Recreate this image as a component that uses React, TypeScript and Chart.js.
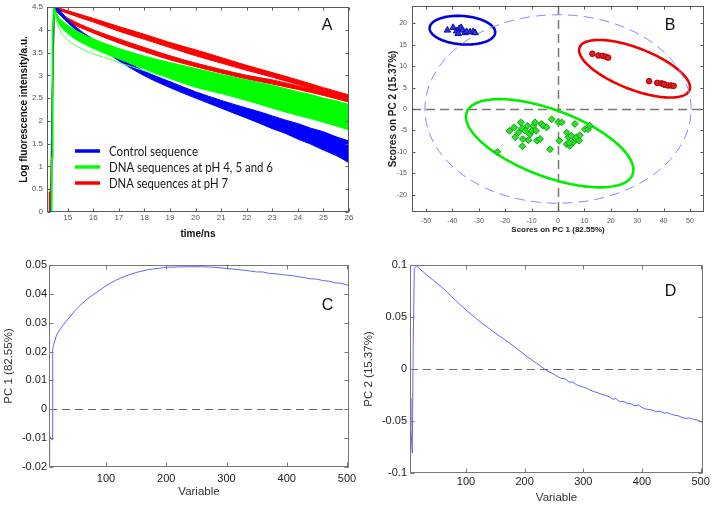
import React, { useEffect, useRef } from "react";
import { Chart, registerables } from "chart.js";
Chart.register(...registerables);

const FONT = 'Arial, "Liberation Sans", sans-serif';

// ---------- Panel A : fluorescence decays ----------
const ticksAx = [15, 16, 17, 18, 19, 20, 21, 22, 23, 24, 25, 26];
const ticksAy = [0, 0.5, 1, 1.5, 2, 2.5, 3, 3.5, 4, 4.5];

const riseTRed = [14.19, 14.28, 14.29, 14.31, 14.33, 14.36, 14.4, 14.47];
const riseYRed = [0, 0, 0.45, 0.1, 0.5, 1.15, 2.5, 4.5];
const riseTBlue = [14.19, 14.33, 14.36, 14.4, 14.46];
const riseYBlue = [0, 0, 0.3, 2.5, 4.5];
const riseTGreen = [14.19, 14.36, 14.37, 14.39, 14.4, 14.42, 14.47];
const riseYGreen = [0, 0, 1.15, 1.2, 2.5, 4.0, 4.5];

const tBlue = [14.45, 14.5, 15, 15.5, 16, 17, 18, 19, 20, 21, 22, 22.5, 23, 23.5, 24, 24.5, 25, 25.5, 26];
const blueUpper = [4.5, 4.5, 4.22, 3.98, 3.79, 3.41, 3.09, 2.86, 2.64, 2.45, 2.28, 2.2, 2.11, 2.02, 1.94, 1.84, 1.76, 1.65, 1.56];
const blueLower = [4.5, 4.46, 4.16, 3.91, 3.71, 3.32, 2.99, 2.73, 2.5, 2.28, 2.06, 1.95, 1.83, 1.73, 1.6, 1.49, 1.36, 1.24, 1.08];

const tGreen = [14.47, 14.6, 15, 15.5, 16, 16.5, 17, 18, 19, 20, 21, 22, 23, 24, 24.5, 25, 25.5, 26];
const greenUpper = [4.5, 4.32, 4.1, 3.93, 3.8, 3.69, 3.59, 3.42, 3.28, 3.15, 3.02, 2.9, 2.78, 2.64, 2.58, 2.5, 2.44, 2.36];
const greenLower = [4.45, 4.2, 3.92, 3.73, 3.59, 3.47, 3.36, 3.14, 2.93, 2.74, 2.6, 2.45, 2.28, 2.12, 2.05, 1.97, 1.89, 1.8];
const tGreenThin = [14.47, 14.6, 15, 15.5, 16, 16.5, 17, 18, 19];
const greenThin = [4.4, 4.1, 3.78, 3.6, 3.47, 3.38, 3.28, 3.1, 2.93];

const tRed = [14.5, 15, 16, 17, 18, 19, 20, 21, 22, 23, 24, 25, 26];
const redAUpper = [4.5, 4.42, 4.25, 4.07, 3.9, 3.72, 3.56, 3.39, 3.22, 3.06, 2.9, 2.73, 2.57];
const redALower = [4.47, 4.36, 4.17, 3.97, 3.79, 3.61, 3.43, 3.27, 3.11, 2.96, 2.8, 2.63, 2.46];
const redBUpper = [4.46, 4.26, 4.0, 3.8, 3.61, 3.43, 3.27, 3.13, 3.0, 2.9, 2.77, 2.64, 2.5];
const redBLower = [4.42, 4.19, 3.93, 3.71, 3.52, 3.34, 3.19, 3.05, 2.92, 2.81, 2.69, 2.56, 2.41];

const legendLabels = ["Control sequence", "DNA sequences at pH 4, 5 and 6", "DNA sequences at pH 7"];
const legendColors = ["#0000ff", "#00ff00", "#ff0000"];

// ---------- Panel B : PCA scores ----------
const ticksBx = [-50, -40, -30, -20, -10, 0, 10, 20, 30, 40, 50];
const ticksBy = [-20, -15, -10, -5, 0, 5, 10, 15, 20];
const controlPC1 = [-41.9, -39.7, -38.4, -37.4, -36.7, -36.2, -35.2, -34.6, -33.3, -32.1, -31.4, -37.8];
const controlPC2 = [18.4, 19.0, 18.2, 18.75, 19.0, 18.4, 17.8, 18.05, 18.0, 18.05, 17.8, 17.6];
const ph7PC1 = [13, 15.3, 16.9, 18.1, 19, 34.5, 37.6, 39.2, 40.3, 41.6, 42.8, 43.8, 40];
const ph7PC2 = [12.9, 12.5, 12.4, 12.2, 12.0, 6.5, 6.1, 6.0, 5.7, 5.5, 5.5, 5.4, 5.8];
const ph456PC1 = [-23, -18.4, -16.6, -16.2, -15.0, -14.1, -13.7, -13.3, -12.4, -11.6, -11.2, -10.6, -9.9, -9.3, -8.7, -8.3, -8.0, -6.8, -6.2, -5.6, -4.3, -3.0, -2.4, 0.1, 1.4, 0.5, 3.3, 3.3, 3.9, 4.5, 5.1, 5.7, 6.4, 7.0, 8.0, 8.3, 10.2, 11.4, 12.0, -13.5, 4.2];
const ph456PC2 = [-10, -5.1, -4.3, -6.6, -5.5, -3.1, -4.5, -7.0, -5.1, -3.9, -7.3, -5.9, -5.1, -3.9, -3.1, -5.1, -7.4, -7.0, -3.5, -3.9, -4.3, -9.4, -2.4, -3.1, -3.1, -7.4, -5.5, -8.2, -6.6, -8.6, -6.3, -7.8, -3.5, -6.6, -7.4, -6.1, -4.7, -4.7, -3.9, -8.7, -7.9];
// ellipses: centre, two conjugate semi-axes (data units)
const ellCentres = [[-36.2, 18.4], [29, 9.4], [-3.15, -8.0], [0, 0]];
const ellAxisU = [[12.4, -0.6], [20.8, -5.0], [31.4, -7.27], [50.4, 0]];
const ellAxisV = [[0.5, 3.3], [2.9, 4.5], [4.4, 7.3], [0, 22]];
const ellColors = ["#0000dd", "#ee0000", "#00ee00", "#8585ff"];

// ---------- Panel C : PC1 loadings ----------
const ticksCx = [100, 200, 300, 400, 500];
const ticksCy = [-0.02, -0.01, 0, 0.01, 0.02, 0.03, 0.04, 0.05];
const varC = [5.5, 6.5, 8, 10.4, 11.5, 13, 18, 24, 30, 40, 50, 60, 70, 80, 90, 100, 115, 130, 150, 170, 200, 230, 260, 280, 300, 320, 340, 350, 360, 370, 380, 390, 400, 410, 420, 430, 440, 450, 460, 470, 480, 490, 500, 503];
const pc1 = [-0.019, -0.0095, -0.0098, -0.0106, 0.021, 0.0222, 0.0258, 0.0278, 0.0295, 0.032, 0.0345, 0.0366, 0.0384, 0.0399, 0.0413, 0.0428, 0.0446, 0.046, 0.0474, 0.0484, 0.0492, 0.0494, 0.0494, 0.0492, 0.0488, 0.0484, 0.0479, 0.0476, 0.0476, 0.0471, 0.0470, 0.0467, 0.0465, 0.0463, 0.0459, 0.0456, 0.0452, 0.0451, 0.0446, 0.0444, 0.0438, 0.0437, 0.0431, 0.0428];

// ---------- Panel D : PC2 loadings ----------
const ticksDx = [100, 200, 300, 400, 500];
const ticksDy = [-0.1, -0.05, 0, 0.05, 0.1];
const varD = [4.6, 6, 8.5, 10, 12, 16, 25, 33, 45, 61, 80, 100, 125, 147, 175, 203, 229, 236, 250, 262, 270, 275, 282, 288, 300, 306, 312, 325, 332, 338, 344, 350, 356, 362, 368, 375, 381, 388, 394, 400, 406, 412, 418, 425, 431, 438, 444, 450, 456, 462, 468, 475, 481, 488, 494, 500, 504];
const pc2 = [-0.028, -0.055, -0.081, 0.02, 0.097, 0.099, 0.0945, 0.0905, 0.085, 0.0775, 0.0672, 0.0567, 0.045, 0.0358, 0.0246, 0.0124, 0.002, -0.001, -0.005, -0.009, -0.0095, -0.0125, -0.0125, -0.015, -0.0175, -0.0185, -0.0205, -0.023, -0.0245, -0.0255, -0.0265, -0.029, -0.0285, -0.0315, -0.031, -0.033, -0.0335, -0.0355, -0.0345, -0.037, -0.0385, -0.039, -0.0395, -0.041, -0.0405, -0.0425, -0.042, -0.0435, -0.0445, -0.045, -0.0465, -0.0475, -0.047, -0.0485, -0.049, -0.0505, -0.052];

// ---------- helpers ----------
const pts = (xs: number[], ys: number[]) => xs.map((x, i) => ({ x, y: ys[i] }));
const fixAxis = (size: number, horizontal: boolean) => (s: any) => {
  if (horizontal) s.height = size;
  else s.width = size;
  s.paddingLeft = 0;
  s.paddingRight = 0;
  s.paddingTop = 0;
  s.paddingBottom = 0;
};
const setTicks = (vals: number[]) => (s: any) => {
  s.ticks = vals.map((v) => ({ value: v }));
};

const boxPlugin = {
  id: "mbox",
  afterDatasetsDraw(chart: any, _a: any, opts: any) {
    const { ctx, chartArea: a, scales } = chart;
    const L = Math.round(a.left) + 0.5;
    const R = Math.round(a.right) - 0.5;
    const T = Math.round(a.top) + 0.5;
    const B = Math.round(a.bottom) - 0.5;
    const len = opts.tick;
    ctx.save();
    ctx.strokeStyle = opts.color;
    ctx.lineWidth = 1;
    ctx.setLineDash([]);
    ctx.strokeRect(L, T, R - L, B - T);
    ctx.beginPath();
    for (const t of scales.x.ticks) {
      const p = Math.round(scales.x.getPixelForValue(t.value)) + 0.5;
      ctx.moveTo(p, B); ctx.lineTo(p, B - len);
      ctx.moveTo(p, T); ctx.lineTo(p, T + len);
    }
    for (const t of scales.y.ticks) {
      const p = Math.round(scales.y.getPixelForValue(t.value)) + 0.5;
      ctx.moveTo(L, p); ctx.lineTo(L + len, p);
      ctx.moveTo(R, p); ctx.lineTo(R - len, p);
    }
    ctx.stroke();
    ctx.restore();
  },
};

const refPlugin = {
  id: "refl",
  beforeDatasetsDraw(chart: any, _a: any, opts: any) {
    const { ctx, chartArea: a, scales } = chart;
    if (!opts || !opts.lines) return;
    ctx.save();
    ctx.beginPath();
    ctx.rect(a.left, a.top, a.right - a.left, a.bottom - a.top);
    ctx.clip();
    for (const r of opts.lines) {
      ctx.strokeStyle = r.color;
      ctx.lineWidth = r.width;
      ctx.setLineDash([r.dash[0], r.dash[1]]);
      ctx.beginPath();
      if (r.axis === "y") {
        const p = Math.round(scales.y.getPixelForValue(r.value)) + 0.5;
        ctx.moveTo(a.left, p); ctx.lineTo(a.right, p);
      } else {
        const p = Math.round(scales.x.getPixelForValue(r.value)) + 0.5;
        ctx.moveTo(p, a.top); ctx.lineTo(p, a.bottom);
      }
      ctx.stroke();
    }
    ctx.restore();
  },
};

const ellipsePlugin = {
  id: "ell",
  beforeDatasetsDraw(chart: any) {
    const { ctx, scales } = chart;
    const xs = scales.x, ys = scales.y;
    ellCentres.forEach((c, k) => {
      const u = ellAxisU[k], v = ellAxisV[k];
      ctx.save();
      ctx.strokeStyle = ellColors[k];
      ctx.lineWidth = k === 3 ? 1 : 2.6;
      ctx.setLineDash(k === 3 ? [10, 6] : []);
      ctx.beginPath();
      for (let i = 0; i <= 200; i++) {
        const t = (i / 200) * Math.PI * 2;
        const dx = c[0] + u[0] * Math.cos(t) + v[0] * Math.sin(t);
        const dy = c[1] + u[1] * Math.cos(t) + v[1] * Math.sin(t);
        const px = xs.getPixelForValue(dx), py = ys.getPixelForValue(dy);
        if (i === 0) ctx.moveTo(px, py); else ctx.lineTo(px, py);
      }
      ctx.closePath();
      ctx.stroke();
      ctx.restore();
    });
  },
};

const textPlugin = {
  id: "txt",
  afterDraw(chart: any, _a: any, opts: any) {
    const { ctx } = chart;
    if (!opts || !opts.items) return;
    for (const t of opts.items) {
      ctx.save();
      ctx.font = t.font;
      ctx.fillStyle = t.color;
      ctx.textAlign = t.align || "left";
      ctx.textBaseline = "middle";
      if (t.maxWidth) ctx.fillText(t.text, t.x, t.y, t.maxWidth);
      else ctx.fillText(t.text, t.x, t.y);
      ctx.restore();
    }
  },
};

const legendPlugin = {
  id: "leg",
  afterDraw(chart: any) {
    const { ctx } = chart;
    const widths = [89, 164, 119];
    legendLabels.forEach((lab, i) => {
      const y = 151 + i * 16;
      ctx.save();
      ctx.strokeStyle = legendColors[i];
      ctx.lineWidth = 3.5;
      ctx.beginPath();
      ctx.moveTo(75, y);
      ctx.lineTo(100, y);
      ctx.stroke();
      ctx.font = '13px Lato, "Liberation Sans", sans-serif';
      ctx.fillStyle = "#1a1a1a";
      ctx.textBaseline = "middle";
      ctx.fillText(lab, 109, y + 0.5, widths[i]);
      ctx.restore();
    });
  },
};

const baseOpts = {
  responsive: false,
  animation: false as const,
  events: [] as any[],
};

const axis = (o: any) => {
  const tickFont = { family: FONT, size: o.tickSize };
  return {
    type: "linear",
    min: o.min,
    max: o.max,
    afterBuildTicks: setTicks(o.ticks),
    afterFit: fixAxis(o.size, o.horizontal),
    grid: { display: false, drawTicks: false, tickLength: 0 },
    border: { display: false },
    ticks: {
      font: tickFont,
      color: o.tickColor,
      padding: o.pad,
      autoSkip: false,
      maxRotation: 0,
      minRotation: 0,
      callback: (v: any) => String(v),
    },
    title: {
      display: true,
      text: o.title,
      color: o.titleColor,
      font: { family: FONT, size: o.titleSize, weight: o.bold ? "bold" : "normal" },
      padding: o.horizontal ? { top: 0, bottom: o.titlePad } : { top: o.titlePad, bottom: 0 },
    },
  };
};

const band = (xs: number[], up: number[], lo: number[], color: string, order: number) => [
  { data: pts(xs, up), borderColor: color, backgroundColor: color, borderWidth: 1, pointRadius: 0, fill: false, order, cubicInterpolationMode: "monotone" },
  { data: pts(xs, lo), borderColor: color, backgroundColor: color, borderWidth: 1, pointRadius: 0, fill: "-1", order, cubicInterpolationMode: "monotone" },
];

export default function App() {
  const refA = useRef<HTMLCanvasElement>(null);
  const refB = useRef<HTMLCanvasElement>(null);
  const refC = useRef<HTMLCanvasElement>(null);
  const refD = useRef<HTMLCanvasElement>(null);

  useEffect(() => {
    const charts: Chart[] = [];

    // Panel A
    charts.push(
      new Chart(refA.current as HTMLCanvasElement, {
        type: "line",
        data: {
          datasets: [
            { data: pts(riseTRed, riseYRed), borderColor: "#ff0000", borderWidth: 1.5, pointRadius: 0, order: 10 },
            { data: pts(riseTBlue, riseYBlue), borderColor: "#0000ff", borderWidth: 1.5, pointRadius: 0, order: 9 },
            ...band(tRed, redAUpper, redALower, "#ff0000", 8),
            ...band(tRed, redBUpper, redBLower, "#ff0000", 7),
            ...band(tBlue, blueUpper, blueLower, "#0000ff", 6),
            ...band(tGreen, greenUpper, greenLower, "#00ff00", 5),
            { data: pts(tGreenThin, greenThin), borderColor: "#55ff55", borderWidth: 1, pointRadius: 0, order: 4, cubicInterpolationMode: "monotone" },
            { data: pts(riseTGreen, riseYGreen), borderColor: "#00ff00", borderWidth: 2, pointRadius: 0, order: 3 },
          ] as any,
        },
        options: {
          ...baseOpts,
          layout: { padding: { left: 0, top: 7, right: 11, bottom: 0 } },
          scales: {
            x: axis({ min: 14.19, max: 26, ticks: ticksAx, size: 38, horizontal: true, tickSize: 8, tickColor: "#555", pad: 1, title: "time/ns", titleColor: "#111", titleSize: 10, bold: true, titlePad: 10 }),
            y: axis({ min: 0, max: 4.5, ticks: ticksAy, size: 47, horizontal: false, tickSize: 8, tickColor: "#555", pad: 4, title: "Log fluorescence intensity/a.u.", titleColor: "#111", titleSize: 10, bold: true, titlePad: 18 }),
          } as any,
          plugins: {
            legend: { display: false },
            tooltip: { enabled: false },
            mbox: { color: "#5a5a5a", tick: 3 },
            txt: { items: [{ text: "A", x: 327, y: 26, font: `16px ${FONT}`, color: "#111", align: "center" }] },
          } as any,
        },
        plugins: [boxPlugin, textPlugin, legendPlugin],
      })
    );

    // Panel B
    charts.push(
      new Chart(refB.current as HTMLCanvasElement, {
        type: "scatter",
        data: {
          datasets: [
            { data: pts(controlPC1, controlPC2), pointStyle: "triangle", pointRadius: 3.8, backgroundColor: "#3333dd", borderColor: "#1111aa", borderWidth: 1 },
            { data: pts(ph7PC1, ph7PC2), pointStyle: "circle", pointRadius: 2.8, backgroundColor: "#e02020", borderColor: "#aa0000", borderWidth: 1 },
            { data: pts(ph456PC1, ph456PC2), pointStyle: "rectRot", pointRadius: 3.4, backgroundColor: "#33dd33", borderColor: "#00aa00", borderWidth: 1 },
          ] as any,
        },
        options: {
          ...baseOpts,
          layout: { padding: { left: 0, top: 6, right: 9, bottom: 0 } },
          scales: {
            x: axis({ min: -55.3, max: 55.3, ticks: ticksBx, size: 38, horizontal: true, tickSize: 7, tickColor: "#555", pad: 5, title: "Scores on PC 1 (82.55%)", titleColor: "#222", titleSize: 8, bold: true, titlePad: 15 }),
            y: axis({ min: -24.05, max: 24.05, ticks: ticksBy, size: 52, horizontal: false, tickSize: 7, tickColor: "#555", pad: 5, title: "Scores on PC 2 (15.37%)", titleColor: "#222", titleSize: 10, bold: true, titlePad: 27 }),
          } as any,
          plugins: {
            legend: { display: false },
            tooltip: { enabled: false },
            mbox: { color: "#5a5a5a", tick: 3 },
            refl: {
              lines: [
                { axis: "x", value: 0, color: "#777", width: 1.5, dash: [9, 5] },
                { axis: "y", value: 0, color: "#777", width: 1.5, dash: [9, 5] },
              ],
            },
            txt: { items: [{ text: "B", x: 310, y: 26, font: `16px ${FONT}`, color: "#111", align: "center" }] },
          } as any,
        },
        plugins: [refPlugin, ellipsePlugin, boxPlugin, textPlugin],
      })
    );

    // Panel C
    charts.push(
      new Chart(refC.current as HTMLCanvasElement, {
        type: "line",
        data: {
          datasets: [{ data: pts(varC, pc1), borderColor: "#6464ff", borderWidth: 1, pointRadius: 0 }] as any,
        },
        options: {
          ...baseOpts,
          layout: { padding: { left: 0, top: 15, right: 11, bottom: 0 } },
          scales: {
            x: axis({ min: 5.4, max: 503.3, ticks: ticksCx, size: 39, horizontal: true, tickSize: 11, tickColor: "#222", pad: 5, title: "Variable", titleColor: "#333", titleSize: 11.5, bold: false, titlePad: 7 }),
            y: axis({ min: -0.02, max: 0.05, ticks: ticksCy, size: 49, horizontal: false, tickSize: 11, tickColor: "#222", pad: 2, title: "PC 1 (82.55%)", titleColor: "#333", titleSize: 11.5, bold: false, titlePad: 2 }),
          } as any,
          plugins: {
            legend: { display: false },
            tooltip: { enabled: false },
            mbox: { color: "#777", tick: 4 },
            refl: { lines: [{ axis: "y", value: 0, color: "#666", width: 1, dash: [8, 5] }] },
            txt: { items: [{ text: "C", x: 327.5, y: 56, font: `16px ${FONT}`, color: "#111", align: "center" }] },
          } as any,
        },
        plugins: [refPlugin, boxPlugin, textPlugin],
      })
    );

    // Panel D
    charts.push(
      new Chart(refD.current as HTMLCanvasElement, {
        type: "line",
        data: {
          datasets: [{ data: pts(varD, pc2), borderColor: "#6464ff", borderWidth: 1, pointRadius: 0 }] as any,
        },
        options: {
          ...baseOpts,
          layout: { padding: { left: 0, top: 15, right: 10, bottom: 0 } },
          scales: {
            x: axis({ min: 4.6, max: 504, ticks: ticksDx, size: 33, horizontal: true, tickSize: 11, tickColor: "#222", pad: 2, title: "Variable", titleColor: "#333", titleSize: 11.5, bold: false, titlePad: 1 }),
            y: axis({ min: -0.1, max: 0.1, ticks: ticksDy, size: 50, horizontal: false, tickSize: 11, tickColor: "#222", pad: 3, title: "PC 2 (15.37%)", titleColor: "#333", titleSize: 11.5, bold: false, titlePad: 2 }),
          } as any,
          plugins: {
            legend: { display: false },
            tooltip: { enabled: false },
            mbox: { color: "#777", tick: 4 },
            refl: { lines: [{ axis: "y", value: 0, color: "#666", width: 1, dash: [8, 5] }] },
            txt: { items: [{ text: "D", x: 310.5, y: 42, font: `16px ${FONT}`, color: "#111", align: "center" }] },
          } as any,
        },
        plugins: [refPlugin, boxPlugin, textPlugin],
      })
    );

    return () => charts.forEach((c) => c.destroy());
  }, []);

  const cs = (l: number, t: number): React.CSSProperties => ({ position: "absolute", left: l, top: t });
  return (
    <div style={{ position: "absolute", left: 0, top: 0, width: 713, height: 506, background: "#fff", overflow: "hidden" }}>
      <canvas ref={refA} width={360} height={250} style={cs(0, 0)} />
      <canvas ref={refB} width={353} height={250} style={cs(360, 0)} />
      <canvas ref={refC} width={360} height={256} style={cs(0, 250)} />
      <canvas ref={refD} width={353} height={256} style={cs(360, 250)} />
    </div>
  );
}
